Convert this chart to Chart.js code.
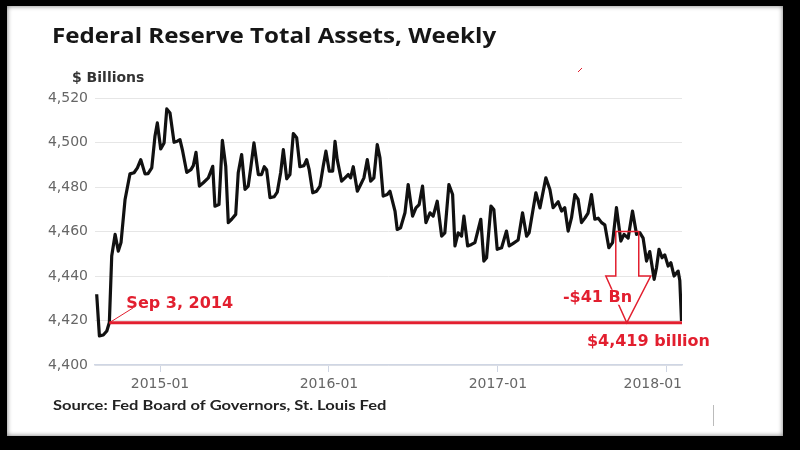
<!DOCTYPE html>
<html>
<head>
<meta charset="utf-8">
<script src="https://cdn.jsdelivr.net/npm/chart.js@4.4.1/dist/chart.umd.min.js"></script>
<style>
  body { margin: 0; background: #000; }
  #card { position: absolute; left: 7px; top: 6px; width: 776px; height: 430px; background: #fff; box-shadow: inset 0 0 5px rgba(0,0,0,0.55); }
  #chart { position: absolute; left: 0; top: 0; }
</style>
</head>
<body>
<div id="card"></div>
<canvas id="chart" width="800" height="450"></canvas>
<script>
// weekly total assets, $ billions (dates as decimal years)
const dateYears = [
  2014.625, 2014.641, 2014.664, 2014.685, 2014.700, 2014.714, 2014.734, 2014.753, 2014.769, 2014.793,
  2014.822, 2014.846, 2014.866, 2014.886, 2014.911, 2014.929, 2014.951, 2014.970, 2014.984, 2015.004,
  2015.024, 2015.040, 2015.059, 2015.083, 2015.102, 2015.118, 2015.134, 2015.158, 2015.183, 2015.197,
  2015.213, 2015.233, 2015.256, 2015.286, 2015.312, 2015.325, 2015.349, 2015.369, 2015.389, 2015.404,
  2015.424, 2015.448, 2015.463, 2015.483, 2015.503, 2015.522, 2015.537, 2015.556, 2015.582, 2015.601,
  2015.617, 2015.631, 2015.651, 2015.675, 2015.694, 2015.714, 2015.730, 2015.750, 2015.769, 2015.789,
  2015.809, 2015.828, 2015.852, 2015.868, 2015.883, 2015.904, 2015.927, 2015.947, 2015.966, 2015.982,
  2016.002, 2016.022, 2016.036, 2016.049, 2016.075, 2016.095, 2016.114, 2016.128, 2016.144, 2016.168,
  2016.188, 2016.207, 2016.227, 2016.247, 2016.266, 2016.286, 2016.302, 2016.321, 2016.345, 2016.361,
  2016.391, 2016.404, 2016.424, 2016.450, 2016.469, 2016.495, 2016.515, 2016.534, 2016.554, 2016.574,
  2016.598, 2016.617, 2016.641, 2016.667, 2016.686, 2016.710, 2016.732, 2016.746, 2016.765, 2016.785,
  2016.799, 2016.821, 2016.844, 2016.864, 2016.899, 2016.917, 2016.933, 2016.959, 2016.976, 2016.996,
  2017.022, 2017.051, 2017.067, 2017.091, 2017.120, 2017.146, 2017.170, 2017.185, 2017.225, 2017.249,
  2017.284, 2017.308, 2017.327, 2017.357, 2017.377, 2017.396, 2017.416, 2017.436, 2017.456, 2017.475,
  2017.495, 2017.515, 2017.534, 2017.554, 2017.574, 2017.594, 2017.614, 2017.633, 2017.657, 2017.679,
  2017.702, 2017.728, 2017.747, 2017.771, 2017.797, 2017.821, 2017.840, 2017.860, 2017.880, 2017.899,
  2017.925, 2017.939, 2017.954, 2017.972, 2017.988, 2018.008, 2018.024, 2018.043, 2018.067, 2018.077,
  2018.087
];
const assetsBn = [
  4431.8, 4413.1, 4413.5, 4415.3, 4419.1, 4449.0, 4458.7, 4451.2, 4455.0, 4474.4,
  4485.9, 4486.4, 4488.6, 4492.3, 4485.9, 4486.0, 4488.6, 4502.8, 4508.8, 4497.1,
  4499.8, 4515.1, 4513.3, 4500.1, 4500.6, 4501.3, 4496.1, 4486.6, 4487.8, 4489.6,
  4495.6, 4480.4, 4481.9, 4484.1, 4489.3, 4471.4, 4472.1, 4501.0, 4489.3, 4464.0,
  4465.5, 4467.7, 4486.4, 4494.6, 4478.9, 4480.4, 4488.6, 4499.8, 4485.6, 4485.6,
  4489.1, 4487.8, 4475.2, 4475.6, 4477.7, 4486.4, 4496.8, 4483.7, 4485.6, 4504.0,
  4502.1, 4489.1, 4489.6, 4492.3, 4487.8, 4477.4, 4478.1, 4480.4, 4489.3, 4496.1,
  4487.1, 4487.1, 4500.5, 4492.3, 4482.6, 4484.1, 4485.6, 4484.1, 4489.1, 4478.1,
  4481.1, 4484.1, 4492.3, 4482.6, 4484.1, 4499.1, 4493.1, 4475.9, 4476.6, 4478.1,
  4469.2, 4460.9, 4461.7, 4468.4, 4481.1, 4466.9, 4470.6, 4472.1, 4480.4, 4464.0,
  4468.4, 4466.9, 4473.6, 4457.9, 4459.4, 4481.1, 4476.6, 4453.5, 4459.4, 4457.9,
  4466.9, 4453.5, 4454.2, 4455.0, 4465.5, 4446.7, 4448.2, 4471.4, 4469.9, 4452.0,
  4452.7, 4460.2, 4453.5, 4454.7, 4456.2, 4468.4, 4457.9, 4459.4, 4477.4, 4470.6,
  4484.1, 4478.9, 4470.7, 4473.4, 4469.2, 4470.7, 4460.2, 4466.2, 4476.6, 4474.4,
  4464.0, 4466.0, 4468.3, 4476.6, 4465.5, 4466.0, 4464.0, 4463.0, 4452.7, 4455.0,
  4470.7, 4455.7, 4458.7, 4457.0, 4469.2, 4458.7, 4459.5, 4457.0, 4446.7, 4451.0,
  4438.5, 4443.7, 4452.0, 4448.2, 4449.5, 4444.5, 4446.0, 4440.0, 4442.2, 4438.0,
  4419.8
];

const yearTicks = [2015, 2016, 2017, 2018];
const tickLabels = ['2015-01', '2016-01', '2017-01', '2018-01'];

// red reference line at the Sep 3, 2014 level
const baselineYears = [2014.700, 2018.090];
const baselineBn = [4419, 4419];

// block arrow showing the -$41 Bn drop
const arrowYears = [2017.698, 2017.834, 2017.834, 2017.905, 2017.763, 2017.639, 2017.698];
const arrowBn = [4460, 4460, 4440, 4440, 4419, 4440, 4440];

const RED = '#e21f2f';

// draw text squeezed/stretched horizontally to the original's width
function wideText(ctx, text, left, base, sx) {
  ctx.save();
  ctx.translate(left, base);
  ctx.scale(sx, 1);
  ctx.fillText(text, 0, 0);
  ctx.restore();
}

const deco = {
  id: 'deco',
  afterDatasetsDraw(chart) {
    const ctx = chart.ctx;
    const x = chart.scales.x, y = chart.scales.y;
    ctx.save();
    // arrow
    ctx.strokeStyle = RED;
    ctx.lineWidth = 1.5;
    ctx.beginPath();
    arrowYears.forEach((t, i) => {
      const px = x.getPixelForValue(t), py = y.getPixelForValue(arrowBn[i]);
      if (i === 0) ctx.moveTo(px, py); else ctx.lineTo(px, py);
    });
    ctx.closePath();
    ctx.stroke();

    // pointer from start of red line to the date label
    const sx = x.getPixelForValue(baselineYears[0]), sy = y.getPixelForValue(baselineBn[0]);
    ctx.lineWidth = 1;
    ctx.beginPath();
    ctx.moveTo(sx, sy);
    ctx.lineTo(sx + 24, sy - 15);
    ctx.stroke();

    ctx.fillStyle = RED;
    ctx.font = 'bold 16px "DejaVu Sans"';
    ctx.textBaseline = 'alphabetic';
    ctx.fillText('Sep 3, 2014', sx + 17, sy - 15);

    // -$41 Bn label, white box behind it
    const lx = x.getPixelForValue(2017.527) - 24, ly = y.getPixelForValue(4419) - 21;
    const w = ctx.measureText('-$41 Bn').width;
    ctx.fillStyle = '#fff';
    ctx.fillRect(lx - 1, ly - 12, w + 2, 15);
    ctx.fillStyle = RED;
    ctx.fillText('-$41 Bn', lx, ly);

    ctx.fillText('$4,419 billion', x.getPixelForValue(2017.527), y.getPixelForValue(4419) + 23);
    ctx.restore();
  },
  afterDraw(chart) {
    const ctx = chart.ctx;
    const x = chart.scales.x;
    const area = chart.chartArea;
    ctx.save();
    ctx.textBaseline = 'alphabetic';
    ctx.fillStyle = '#161616';
    ctx.font = 'bold 21px "Open Sans"';
    wideText(ctx, 'Federal Reserve Total Assets, Weekly', 52, 43, 1.15);
    ctx.fillStyle = '#333';
    ctx.font = 'bold 14px "DejaVu Sans"';
    ctx.fillText('$ Billions', 72, 82);
    ctx.font = 'bold 14px Lato';
    ctx.fillStyle = '#222';
    wideText(ctx, 'Source: Fed Board of Governors, St. Louis Fed', 53, 410, 1.18);

    // x tick labels, last one kept inside the plot
    ctx.font = '14px "DejaVu Sans"';
    ctx.fillStyle = '#666';
    yearTicks.forEach((t, i) => {
      const w = ctx.measureText(tickLabels[i]).width;
      let left = x.getPixelForValue(t) - w / 2;
      if (left + w > area.right) left = area.right - w;
      ctx.fillText(tickLabels[i], left, 388);
    });

    // stray marks from the original slide
    ctx.strokeStyle = RED;
    ctx.lineWidth = 1;
    ctx.beginPath();
    ctx.moveTo(578, 72);
    ctx.lineTo(582, 68);
    ctx.stroke();
    ctx.strokeStyle = '#bbb';
    ctx.beginPath();
    ctx.moveTo(713.5, 405);
    ctx.lineTo(713.5, 426);
    ctx.stroke();
    ctx.restore();
  }
};

new Chart(document.getElementById('chart'), {
  type: 'line',
  data: {
    datasets: [
      {
        data: baselineYears.map((t, i) => ({ x: t, y: baselineBn[i] })),
        borderColor: RED,
        borderWidth: 3,
        pointRadius: 0,
        order: 0
      },
      {
        data: dateYears.map((t, i) => ({ x: t, y: assetsBn[i] })),
        borderColor: '#111',
        borderWidth: 3.2,
        pointRadius: 0,
        tension: 0,
        borderJoinStyle: 'round',
        order: 1
      }
    ]
  },
  options: {
    responsive: false,
    animation: false,
    layout: { padding: { left: 0, top: 98, right: 118, bottom: 0 } },
    plugins: { legend: { display: false }, tooltip: { enabled: false } },
    scales: {
      x: {
        type: 'linear',
        min: 2014.615,
        max: 2018.09,
        afterBuildTicks: (scale) => { scale.ticks = yearTicks.map(v => ({ value: v })); },
        afterFit: (scale) => { scale.height = 85; },
        ticks: { display: false },
        grid: { drawOnChartArea: false, drawTicks: true, tickLength: 7, color: '#cfd6e4' },
        border: { color: '#cfd6e4', width: 1.5 }
      },
      y: {
        min: 4400,
        max: 4520,
        afterFit: (scale) => { scale.width = 95; },
        ticks: { stepSize: 20, padding: 7, color: '#666', font: { family: 'DejaVu Sans', size: 14 } },
        grid: { color: '#e6e6e6', drawTicks: false },
        border: { display: false }
      }
    }
  },
  plugins: [deco]
});
</script>
</body>
</html>
